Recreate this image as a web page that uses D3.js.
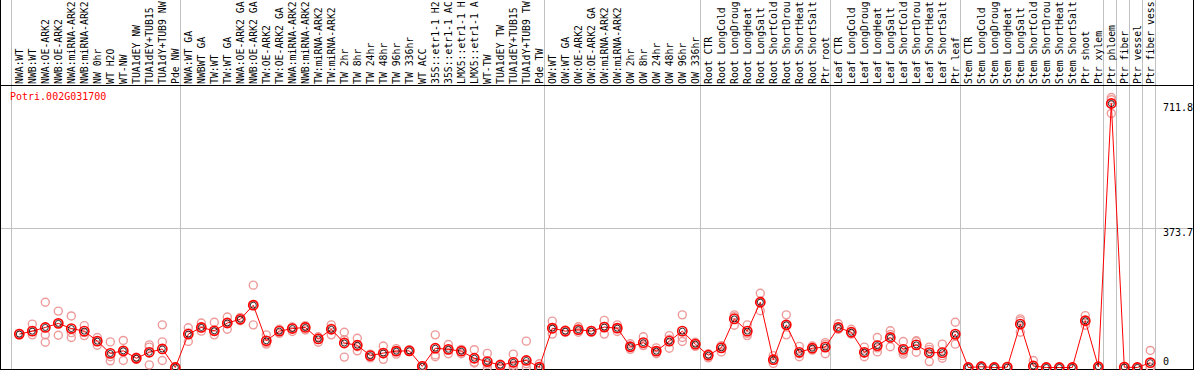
<!DOCTYPE html>
<html>
<head>
<meta charset="utf-8">
<script src="https://cdn.jsdelivr.net/npm/d3@7/dist/d3.min.js"></script>
<style>
  html, body { margin: 0; padding: 0; background: #fff; }
  svg { display: block; }
  text { font-family: "DejaVu Sans Mono", monospace; font-size: 10px; }
  .col-label { font-size: 9.8px; }
</style>
</head>
<body>
<div id="chart"></div>
<script>
const geneId = 'Potri.002G031700';

const categories = [
  'NWA:WT', 'NWB:WT', 'NWA:OE-ARK2', 'NWB:OE-ARK2', 'NWA:miRNA-ARK2', 'NWB:miRNA-ARK2',
  'NW 0hr', 'WT H2O', 'WT-NW', 'TUA1dEY NW', 'TUA1dEY+TUB15 NW', 'TUA1dY+TUB9 NW', 'Pde NW',
  'NWA:WT GA', 'NWBWT GA', 'TW:WT', 'TW:WT GA', 'NWA:OE-ARK2 GA', 'NWB:OE-ARK2 GA',
  'TW:OE-ARK2', 'TW:OE-ARK2 GA', 'NWA:miRNA-ARK2', 'NWB:miRNA-ARK2', 'TW:miRNA-ARK2',
  'TW:miRNA-ARK2', 'TW 2hr', 'TW 8hr', 'TW 24hr', 'TW 48hr', 'TW 96hr', 'TW 336hr', 'WT ACC',
  '35S::etr1-1 H2O', '35S::etr1-1 ACC', 'LMX5::etr1-1 H2O', 'LMX5::etr1-1 ACC', 'WT-TW',
  'TUA1dEY TW', 'TUA1dEY+TUB15 TW', 'TUA1dY+TUB9 TW', 'Pde TW',
  'OW:WT', 'OW:WT GA', 'OW:OE-ARK2', 'OW:OE-ARK2 GA', 'OW:miRNA-ARK2', 'OW:miRNA-ARK2',
  'OW 2hr', 'OW 8hr', 'OW 24hr', 'OW 48hr', 'OW 96hr', 'OW 336hr',
  'Root CTR', 'Root LongCold', 'Root LongDrought', 'Root LongHeat', 'Root LongSalt',
  'Root ShortCold', 'Root ShortDrought', 'Root ShortHeat', 'Root ShortSalt', 'Ptr root',
  'Leaf CTR', 'Leaf LongCold', 'Leaf LongDrought', 'Leaf LongHeat', 'Leaf LongSalt',
  'Leaf ShortCold', 'Leaf ShortDrought', 'Leaf ShortHeat', 'Leaf ShortSalt', 'Ptr leaf',
  'Stem CTR', 'Stem LongCold', 'Stem LongDrought', 'Stem LongHeat', 'Stem LongSalt',
  'Stem ShortCold', 'Stem ShortDrought', 'Stem ShortHeat', 'Stem ShortSalt', 'Ptr shoot', 'Ptr xylem',
  'Ptr phloem', 'Ptr fiber', 'Ptr vessel', 'Ptr fiber vessel'
];

// index where each tissue block starts (vertical separators)
const groupStarts = [0, 13, 41, 53, 63, 73, 84, 85, 86, 87, 88];

const means = [
  90, 98, 108, 119, 105, 98, 71, 38, 45, 25, 41, 50, 0,
  90, 108, 99, 120, 130, 168, 72, 98, 105, 108, 77, 103, 66, 60, 32, 39, 44, 45, 3,
  52, 49, 44, 25, 16, 6, 14, 19, 1,
  106, 98, 102, 98, 109, 106, 56, 67, 44, 71, 98, 63,
  33, 53, 131, 98, 176, 21, 115, 41, 52, 55,
  108, 95, 41, 59, 81, 49, 61, 40, 40, 90,
  0, 2, 0, 1, 117, 4, 0, 0, 0, 126, 2,
  711.8, 1, 0, 13
];

const rep1 = [
  92, 117, 176, 152, 139, 113, 81, 69, 73, 28, 61, 115, 2,
  107, 120, 122, 136, 135, 222, 88, 103, 109, 113, 83, 115, 95, 79, 36, 58, 51, 48, 5,
  88, 62, 49, 48, 38, 8, 36, 71, 10,
  125, 101, 110, 100, 127, 115, 64, 83, 53, 86, 142, 68,
  37, 59, 142, 115, 200, 32, 142, 57, 58, 67,
  118, 103, 55, 81, 99, 70, 70, 55, 63, 122,
  0, 4, 0, 2, 131, 19, 0, 0, 0, 140, 3,
  728, 3, 0, 46
];

const rep2 = [
  88, 88, 88, 87, 81, 86, 60, 18, 19, 22, 7, 69, 0,
  70, 98, 88, 103, 126, 115, 63, 92, 97, 101, 80, 88, 28, 45, 26, 22, 36, 43, 2,
  34, 37, 37, 12, 0, 0, 0, 10, 0,
  90, 95, 95, 95, 90, 97, 49, 59, 37, 52, 70, 57,
  26, 42, 114, 86, 153, 11, 88, 29, 47, 37,
  103, 92, 29, 42, 56, 36, 41, 16, 25, 63,
  0, 1, 0, 0, 95, 0, 0, 0, 0, 114, 2,
  685, 0, 0, 0
];

const rep3 = [
  90, 97, 68, 119, 94, 94, 70, 29, 43, 25, 55, 19, 0,
  93, 107, 97, 121, 129, 168, 66, 100, 108, 111, 68, 106, 75, 56, 33, 37, 44, 45, 3,
  29, 48, 47, 14, 9, 9, 6, 0, 0,
  103, 99, 101, 99, 111, 106, 55, 60, 44, 76, 81, 63,
  35, 57, 137, 92, 175, 20, 114, 37, 51, 62,
  104, 90, 39, 53, 89, 41, 72, 49, 32, 85,
  0, 1, 0, 1, 126, 0, 0, 0, 0, 125, 1,
  722, 0, 0, 0
];

const yTicks = [0, 373.7, 711.8];
const yTickLabels = ['0', '373.7', '711.8'];

const labelChars = 14; // column names are cut to this many characters

const width = 1194, height = 370;
const headerBottom = 85.5, plotBottom = 369.5, rightEdge = 1193.5;

const svg = d3.select('#chart').append('svg')
  .attr('width', width)
  .attr('height', height);

const x = d3.scaleLinear()
  .domain([0, categories.length - 1])
  .range([19.3, 1150.3]);

const y = d3.scaleLinear()
  .domain([0, 711.8])
  .range([367.5, 103.5]);

const px = v => Math.floor(v) + 0.5;

// grid
svg.append('g')
  .selectAll('line')
  .data(groupStarts)
  .enter().append('line')
  .attr('x1', d => px(x(d) - 7.6))
  .attr('x2', d => px(x(d) - 7.6))
  .attr('y1', 0)
  .attr('y2', height)
  .attr('stroke', '#c0c0c0')
  .attr('shape-rendering', 'crispEdges');

svg.append('line')
  .attr('x1', 0).attr('x2', rightEdge)
  .attr('y1', px(y(373.7))).attr('y2', px(y(373.7)))
  .attr('stroke', '#c0c0c0')
  .attr('shape-rendering', 'crispEdges');

// frame
const frame = svg.append('g')
  .attr('stroke', '#000')
  .attr('shape-rendering', 'crispEdges');
frame.append('line').attr('x1', 0.5).attr('x2', 0.5).attr('y1', 0).attr('y2', height);
frame.append('line').attr('x1', rightEdge).attr('x2', rightEdge).attr('y1', 0).attr('y2', height);
frame.append('line').attr('x1', 0).attr('x2', width).attr('y1', headerBottom).attr('y2', headerBottom);
frame.append('line').attr('x1', 0).attr('x2', width).attr('y1', plotBottom).attr('y2', plotBottom);

// column labels (rotated)
svg.append('g')
  .selectAll('text')
  .data(categories)
  .enter().append('text')
  .attr('class', 'col-label')
  .attr('transform', (d, i) => `translate(${x(i) + 3.6},84) rotate(-90)`)
  .attr('fill', '#000')
  .text(d => d.slice(0, labelChars));

// y labels on the right
svg.append('g')
  .selectAll('text')
  .data(yTicks)
  .enter().append('text')
  .attr('x', 1163)
  .attr('y', d => d === 0 ? y(d) - 2.2 : y(d) + 7.6)
  .attr('fill', '#000')
  .text((d, i) => yTickLabels[i]);

// gene name
svg.append('text')
  .attr('x', 10)
  .attr('y', 100.3)
  .attr('fill', '#ff0000')
  .text(geneId);

// replicates
const reps = svg.append('g')
  .attr('fill', 'none')
  .attr('stroke', '#ee9a9a')
  .attr('stroke-width', 1.4);
[rep1, rep2, rep3].forEach(rep => {
  reps.selectAll(null)
    .data(rep)
    .enter().append('circle')
    .attr('cx', (d, i) => x(i))
    .attr('cy', d => y(d))
    .attr('r', 4);
});

// mean line
const line = d3.line()
  .x((d, i) => x(i))
  .y(d => y(d));

svg.append('path')
  .datum(means)
  .attr('d', line)
  .attr('fill', 'none')
  .attr('stroke', '#ff0000')
  .attr('stroke-width', 1);

// mean markers
const dots = svg.append('g').attr('fill', 'none');
dots.selectAll('.mean')
  .data(means)
  .enter().append('circle')
  .attr('class', 'mean')
  .attr('cx', (d, i) => x(i))
  .attr('cy', d => y(d))
  .attr('r', 4.6)
  .attr('stroke', '#ff0000')
  .attr('stroke-width', 1.6);

dots.selectAll('.mean-in')
  .data(means)
  .enter().append('circle')
  .attr('class', 'mean-in')
  .attr('cx', (d, i) => x(i))
  .attr('cy', d => y(d))
  .attr('r', 3)
  .attr('stroke', '#000')
  .attr('stroke-width', 0.8);
</script>
</body>
</html>
